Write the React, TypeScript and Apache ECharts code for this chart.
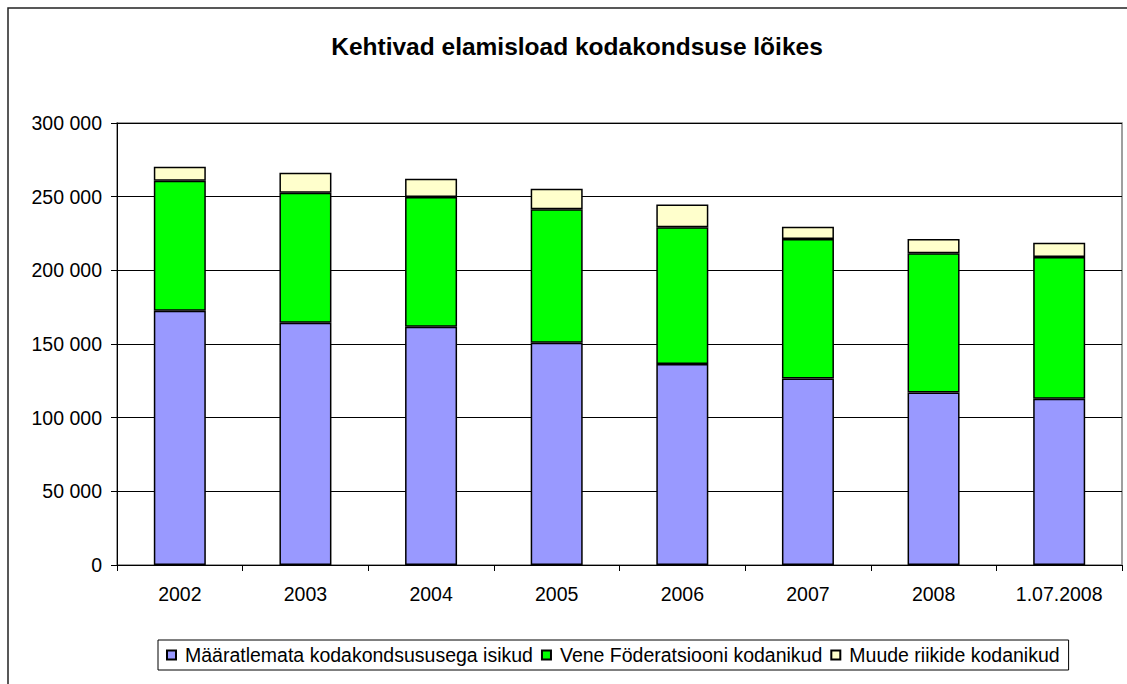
import React, { useEffect, useRef } from "react";
import * as echarts from "echarts";

const categories = ["2002", "2003", "2004", "2005", "2006", "2007", "2008", "1.07.2008"];
const undetermined = [172600, 164500, 161700, 150900, 136400, 126500, 117000, 112900];
const russian = [88200, 88200, 88100, 90500, 92800, 94800, 94600, 96200];
const others = [9500, 13600, 12400, 14000, 15400, 8300, 9700, 9700];
const seriesNames = [
  "Määratlemata kodakondsususega isikud",
  "Vene Föderatsiooni kodanikud",
  "Muude riikide kodanikud",
];
const colors = ["#9999FF", "#00FF00", "#FFFFCC"];
const FONT = "'Liberation Sans', Arial, sans-serif";

export default function App() {
  const ref = useRef<HTMLDivElement>(null);
  useEffect(() => {
    if (!ref.current) return;
    const chart = echarts.init(ref.current, null, { renderer: "svg" });
    const data = [undetermined, russian, others];
    chart.setOption({
      animation: false,
      backgroundColor: "#fff",
      textStyle: { fontFamily: FONT, color: "#000" },
      title: {
        text: "Kehtivad elamisload kodakondsuse lõikes",
        left: 572,
        textAlign: "center",
        top: 29,
        textStyle: { fontFamily: FONT, fontSize: 24.5, fontWeight: "bold", color: "#000" },
      },
      graphic: [
        {
          type: "rect",
          shape: { x: 8, y: 8, width: 1200, height: 800 },
          style: { fill: "none", stroke: "#222", lineWidth: 1.5 },
          silent: true,
          z: -10,
        },
      ],
      legend: {
        left: 158,
        top: 640,
        padding: [5, 9, 5, 8],
        borderColor: "#000",
        borderWidth: 1,
        itemWidth: 9,
        itemHeight: 9,
        itemGap: 8,
        icon: "rect",
        textStyle: { fontFamily: FONT, fontSize: 19.5, color: "#000", padding: [0, 0, 0, 4] },
        data: seriesNames,
      },
      grid: {
        left: 117,
        top: 123,
        right: 5,
        bottom: 119,
        show: true,
        borderColor: "#808080",
        borderWidth: 1.5,
      },
      xAxis: {
        type: "category",
        data: categories,
        axisLine: { show: true, lineStyle: { color: "#000", width: 1 } },
        axisTick: { show: true, length: 6, alignWithLabel: false, lineStyle: { color: "#000" } },
        axisLabel: { fontSize: 19.5, color: "#000", margin: 19, fontFamily: FONT },
        splitLine: { show: false },
      },
      yAxis: {
        type: "value",
        min: 0,
        max: 300000,
        interval: 50000,
        axisLine: { show: true, lineStyle: { color: "#000", width: 1 } },
        axisTick: { show: true, length: 6, lineStyle: { color: "#000" } },
        axisLabel: {
          fontSize: 19.5,
          color: "#000",
          margin: 15,
          fontFamily: FONT,
          formatter: (v: number) =>
            String(v).replace(/\B(?=(\d{3})+(?!\d))/g, " "),
        },
        splitLine: { show: true, lineStyle: { color: "#000", width: 1 } },
      },
      series: seriesNames.map((name, i) => ({
        name,
        type: "bar",
        stack: "total",
        barWidth: 52,
        data: data[i],
        itemStyle: { color: colors[i], borderColor: "#000", borderWidth: 1.5 },
      })),
    });
    return () => chart.dispose();
  }, []);
  return (
    <div
      ref={ref}
      style={{ position: "fixed", left: 0, top: 0, width: 1127, height: 684 }}
    />
  );
}
